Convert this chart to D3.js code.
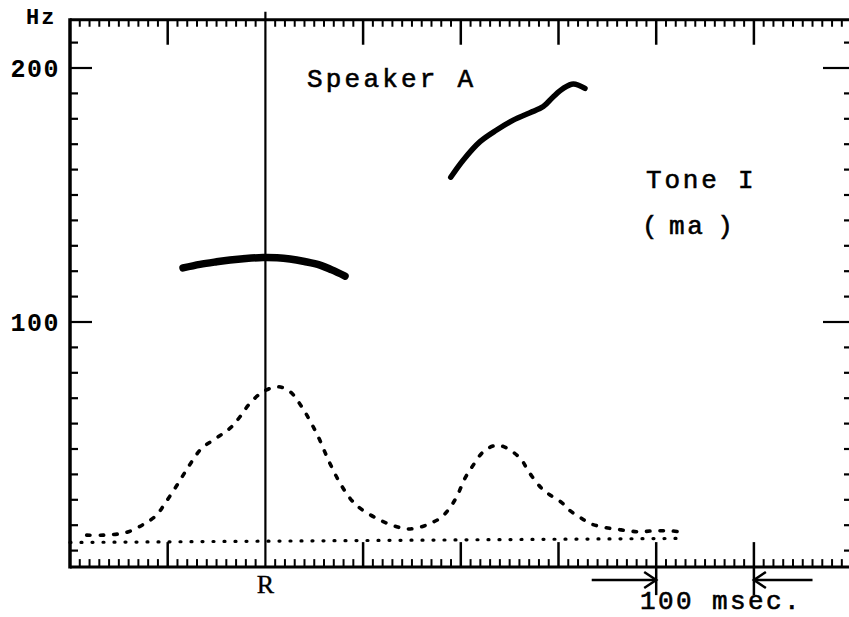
<!DOCTYPE html>
<html><head><meta charset="utf-8">
<script src="https://cdn.jsdelivr.net/npm/d3@7"></script>
<style>
html,body{margin:0;padding:0;background:#fff;}
svg{display:block;}
</style></head>
<body><svg id="chart" width="849" height="617"></svg>
<script>
// ---------- data ----------
// time axis (ms) and frequency axis (Hz)
const timeDomain = [0, 800];
const hzFrame = [3.5, 219];
const minorTimeTicks = d3.range(10, 800, 10);
const majorTimeTicks = [100, 200, 300, 400, 500, 600, 700];
const hzTicks = d3.range(10, 220, 10);
const hzLabelTicks = [100, 200];
const referenceTime = 200;            // "R"
const scaleMarker = [600, 700];       // 100 msec.

// F0 contour of first (thick) trace: [ms, Hz]
const contourThickT = [115.7, 133, 150, 163.8, 180, 197.5, 212, 225.2, 240, 255.9, 268, 281.5];
const contourThickHz = [121.3, 122.7, 123.7, 124.4, 125.0, 125.4, 125.3, 124.8, 123.8, 122.4, 120.5, 118.1];

// F0 contour of second (rising) trace
const contourRiseT = [389.7, 402.6, 419.7, 436.7, 453.7, 470.8, 484.4, 494.7, 504.9, 515.2, 527.1];
const contourRiseHz = [157.0, 163.8, 171.0, 175.6, 179.5, 182.4, 184.8, 188.7, 192.0, 193.7, 192.0];

// intensity envelope (dashed), in axis units
const envT = [17.1, 34.1, 58.0, 76.8, 88.7, 97.2, 107.5, 116.0, 124.6, 134.8, 146.7, 156.9, 165.5, 174.0, 184.2, 197.8, 213.2, 225.2, 233.7, 242.3, 254.1, 264.4, 274.6, 286.6, 296.8, 317.3, 334.4, 346.3, 360.0, 368.5, 378.7, 387.2, 395.8, 404.3, 412.8, 423.0, 433.3, 441.9, 453.7, 462.3, 467.4, 474.2, 482.8, 491.3, 503.3, 511.8, 522.0, 532.2, 545.9, 559.6, 573.2, 583.4, 593.7, 603.9, 614.1, 624.4];
const envHz = [16.1, 16.1, 17.2, 20.7, 24.0, 28.6, 34.5, 39.8, 45.0, 50.3, 53.5, 56.2, 58.8, 62.7, 68.0, 72.6, 74.5, 72.6, 68.6, 63.4, 54.8, 45.7, 37.8, 30.6, 26.7, 22.0, 19.4, 18.5, 19.4, 20.7, 22.7, 26.0, 31.2, 38.5, 43.7, 48.9, 51.2, 51.2, 48.7, 45.7, 42.4, 38.5, 34.5, 31.9, 28.9, 25.7, 23.1, 20.7, 19.2, 18.4, 17.7, 17.4, 17.7, 17.8, 17.8, 17.4];

// baseline of envelope
const baseT = [0, 627];
const baseHz = [13.2, 14.8];

// ---------- scales ----------
const svg = d3.select("#chart");
const x = d3.scaleLinear().domain(timeDomain).range([70, 70 + 800 * 0.977]);
const y = d3.scaleLinear().domain([100, 200]).range([322, 68]);

const X0 = x(0), X1 = 853, Y0 = y(hzFrame[1]), Y1 = y(hzFrame[0]);
const ink = "#000";

// ---------- frame ----------
const g = svg.append("g");
g.append("line").attr("x1", X0).attr("x2", X1).attr("y1", Y0).attr("y2", Y0).attr("stroke", ink).attr("stroke-width", 3);
g.append("line").attr("x1", X0).attr("x2", X1).attr("y1", Y1).attr("y2", Y1).attr("stroke", ink).attr("stroke-width", 3);
g.append("line").attr("x1", X0).attr("x2", X0).attr("y1", Y0 - 1.5).attr("y2", Y1 + 1.5).attr("stroke", ink).attr("stroke-width", 3.5);
g.append("line").attr("x1", X1).attr("x2", X1).attr("y1", Y0).attr("y2", Y1).attr("stroke", ink).attr("stroke-width", 3);

// top and bottom time ticks
g.selectAll(".tmin").data(minorTimeTicks.filter(d => !majorTimeTicks.includes(d) && x(d) < 849)).join("g").each(function(d){
  const s = d3.select(this);
  s.append("line").attr("x1", x(d)).attr("x2", x(d)).attr("y1", Y0).attr("y2", Y0 + 7).attr("stroke", ink).attr("stroke-width", 2);
  s.append("line").attr("x1", x(d)).attr("x2", x(d)).attr("y1", Y1).attr("y2", Y1 - 8).attr("stroke", ink).attr("stroke-width", 2);
});
g.selectAll(".tmaj").data(majorTimeTicks.filter(d => d !== referenceTime)).join("g").each(function(d){
  const s = d3.select(this);
  s.append("line").attr("x1", x(d)).attr("x2", x(d)).attr("y1", Y0).attr("y2", Y0 + 25).attr("stroke", ink).attr("stroke-width", 2.5);
  const low = scaleMarker.includes(d) ? Y1 + 28 : Y1;
  s.append("line").attr("x1", x(d)).attr("x2", x(d)).attr("y1", low).attr("y2", Y1 - 25).attr("stroke", ink).attr("stroke-width", 2.5);
});

// left and right Hz ticks
g.selectAll(".hz").data(hzTicks).join("g").each(function(d){
  const s = d3.select(this);
  const long = hzLabelTicks.includes(d);
  s.append("line").attr("x1", X0).attr("x2", X0 + (long ? 22 : 8)).attr("y1", y(d)).attr("y2", y(d)).attr("stroke", ink).attr("stroke-width", 2.2);
  s.append("line").attr("x1", X1).attr("x2", X1 - (long ? 30 : 9)).attr("y1", y(d)).attr("y2", y(d)).attr("stroke", ink).attr("stroke-width", 2.2);
});

// reference line R
g.append("line").attr("x1", x(referenceTime)).attr("x2", x(referenceTime)).attr("y1", Y0 - 8).attr("y2", Y1).attr("stroke", ink).attr("stroke-width", 2.2);

// ---------- labels ----------
const mono = "'Liberation Mono', 'DejaVu Sans Mono', monospace";
svg.append("text").attr("x", 26).attr("y", 24).text("Hz").attr("font-family", mono).attr("font-weight", "bold").attr("font-size", 22).attr("letter-spacing", 2);
hzLabelTicks.forEach(v => {
  svg.append("text").attr("x", 60).attr("y", y(v) + 9).attr("text-anchor", "end").text(String(v))
    .attr("font-family", mono).attr("font-weight", "bold").attr("font-size", 25).attr("letter-spacing", 1.5);
});
svg.append("text").attr("x", x(referenceTime)).attr("y", 593).attr("text-anchor", "middle").text("R")
  .attr("font-family", "'Liberation Serif', serif").attr("font-size", 26).attr("stroke", ink).attr("stroke-width", 0.4);

const typeText = (t, xx, yy, ls) => svg.append("text").attr("x", xx).attr("y", yy).text(t)
  .attr("font-family", mono).attr("font-size", 26).attr("letter-spacing", ls)
  .attr("stroke", ink).attr("stroke-width", 0.6).style("white-space", "pre");
typeText("Speaker A", 307, 87, 3.2);
typeText("Tone I", 646, 188, 2.8);
typeText("(ma)", 642, 234, 2.5).attr("dx", "0 9 0 12");
typeText("100 msec.", 640, 609, 2.4);

// 100 msec arrows
const arrowY = 580;
function arrow(fromT, toT) {
  const a = x(fromT), b = x(toT), dir = Math.sign(b - a);
  svg.append("line").attr("x1", a).attr("x2", b - dir * 2).attr("y1", arrowY).attr("y2", arrowY).attr("stroke", ink).attr("stroke-width", 2.5);
  svg.append("path").attr("d", `M${b - dir * 12},${arrowY - 8} L${b},${arrowY} L${b - dir * 12},${arrowY + 8}`)
    .attr("fill", "none").attr("stroke", ink).attr("stroke-width", 2.5);
}
arrow(534, scaleMarker[0]);
arrow(760, scaleMarker[1]);

// ---------- traces ----------
const line = d3.line().x(d => x(d[0])).y(d => y(d[1])).curve(d3.curveCatmullRom.alpha(0.5));

svg.append("path").datum(contourThickT.map((t, i) => [t, contourThickHz[i]]))
  .attr("d", line).attr("fill", "none").attr("stroke", ink).attr("stroke-width", 7.5).attr("stroke-linecap", "round");
svg.append("path").datum(contourRiseT.map((t, i) => [t, contourRiseHz[i]]))
  .attr("d", line).attr("fill", "none").attr("stroke", ink).attr("stroke-width", 5.5).attr("stroke-linecap", "round");

svg.append("path").datum(envT.map((t, i) => [t, envHz[i]]))
  .attr("d", line).attr("fill", "none").attr("stroke", ink).attr("stroke-width", 3.6)
  .attr("stroke-dasharray", "3.5,10").attr("stroke-linecap", "round");

svg.append("path").datum(baseT.map((t, i) => [t, baseHz[i]]))
  .attr("d", d3.line().x(d => x(d[0])).y(d => y(d[1]))).attr("fill", "none").attr("stroke", ink).attr("stroke-width", 3.2)
  .attr("stroke-dasharray", "1,10").attr("stroke-linecap", "round");
</script></body></html>
